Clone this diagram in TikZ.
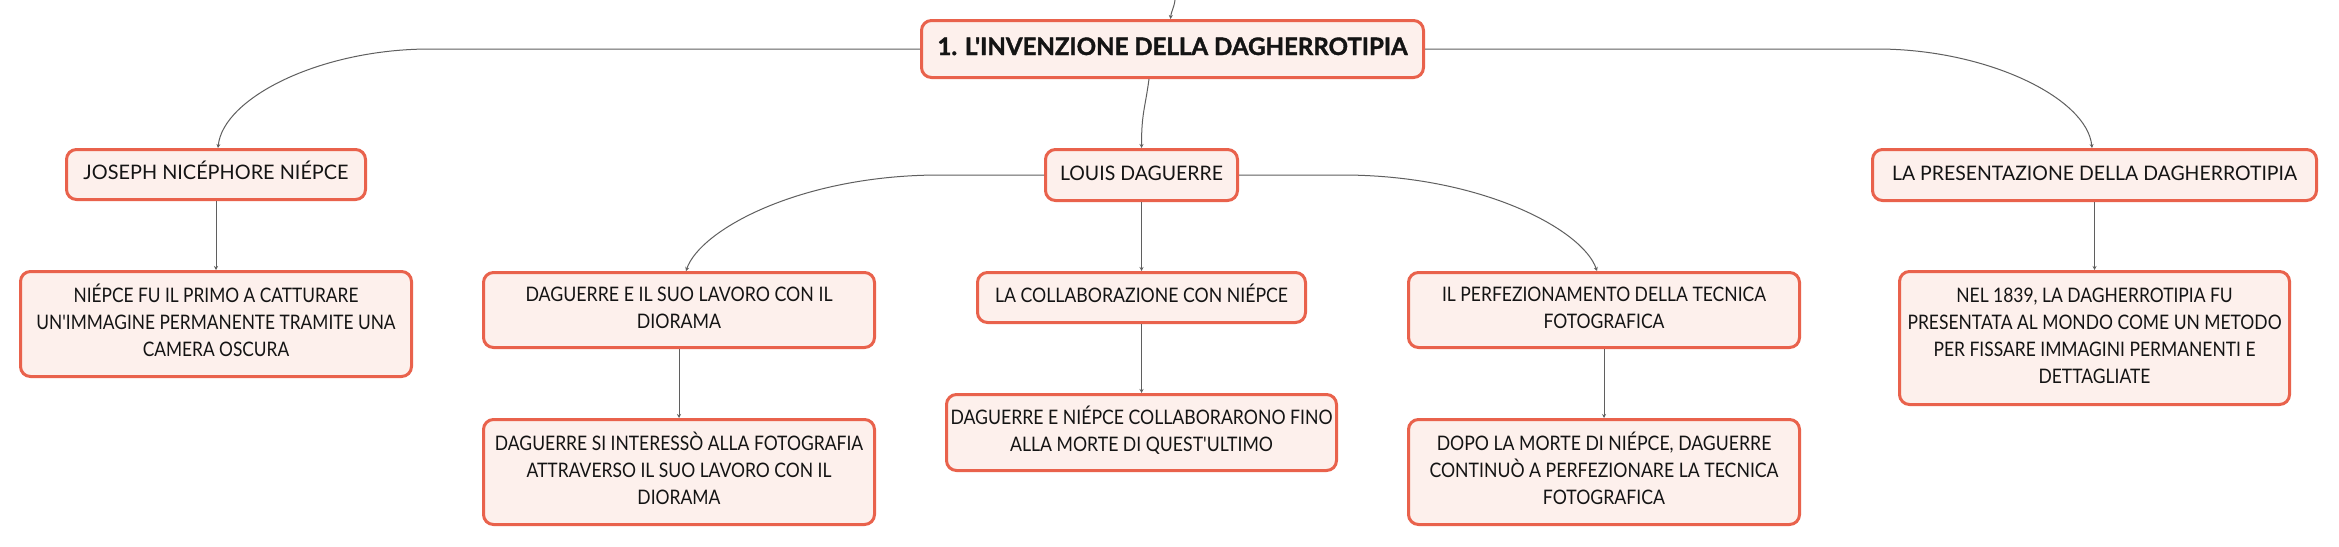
\documentclass[tikz,border=0pt]{standalone}
\usepackage{fontspec}
\usepackage{graphicx}
\setmainfont{Lato}[Ligatures=TeXOff, BoldFeatures={FakeBold=1.5}]
\usetikzlibrary{arrows.meta}
\definecolor{boxred}{RGB}{233,98,76}
\definecolor{boxfill}{RGB}{253,240,236}
\definecolor{linec}{RGB}{95,95,95}
\definecolor{txt}{RGB}{20,20,20}
\newcommand\fitw[2]{\resizebox{#1pt}{\height}{\begin{tabular}{@{}c@{}}#2\end{tabular}}}
\begin{document}
\begin{tikzpicture}[x=1pt,y=-1pt,
  box/.style={draw=boxred, fill=boxfill, line width=3pt, rounded corners=10pt,
    align=center, text=txt, inner sep=0pt, font=\fontsize{20}{27}\selectfont},
  link/.style={draw=linec, line width=1pt, -{Stealth[length=4pt,width=4pt]}}]
\useasboundingbox[fill=white] (0,0) rectangle (2339,546);

\node[box, minimum width=502, minimum height=57, font=\fontsize{24}{30}\selectfont\bfseries] (title) at (1172.5,49) {\fitw{470}{1. L'INVENZIONE DELLA DAGHERROTIPIA}};

\node[box, minimum width=299, minimum height=50] (joseph) at (216,174.5) {\fitw{265}{JOSEPH NICÉPHORE NIÉPCE}};
\node[box, minimum width=192, minimum height=51] (louis) at (1141.5,175) {\fitw{163}{LOUIS DAGUERRE}};
\node[box, minimum width=444, minimum height=51] (pres) at (2094.5,175) {\fitw{405}{LA PRESENTAZIONE DELLA DAGHERROTIPIA}};

\node[box, minimum width=391, minimum height=105] (n1) at (216,324) {\fitw{359}{NIÉPCE FU IL PRIMO A CATTURARE\\UN'IMMAGINE PERMANENTE TRAMITE UNA\\CAMERA OSCURA}};
\node[box, minimum width=391, minimum height=75] (d1) at (679,310) {\fitw{307}{DAGUERRE E IL SUO LAVORO CON IL\\DIORAMA}};
\node[box, minimum width=328, minimum height=50] (d2) at (1141.5,297.5) {\fitw{293}{LA COLLABORAZIONE CON NIÉPCE}};
\node[box, minimum width=391, minimum height=75] (d3) at (1604,310) {\fitw{324}{IL PERFEZIONAMENTO DELLA TECNICA\\FOTOGRAFICA}};
\node[box, minimum width=390, minimum height=133] (p1) at (2094.5,338) {\fitw{374}{NEL 1839, LA DAGHERROTIPIA FU\\PRESENTATA AL MONDO COME UN METODO\\PER FISSARE IMMAGINI PERMANENTI E\\DETTAGLIATE}};

\node[box, minimum width=391, minimum height=105] (d1a) at (679,472) {\fitw{368}{DAGUERRE SI INTERESSÒ ALLA FOTOGRAFIA\\ATTRAVERSO IL SUO LAVORO CON IL\\DIORAMA}};
\node[box, minimum width=390, minimum height=76] (d2a) at (1141.5,432.5) {\fitw{382}{DAGUERRE E NIÉPCE COLLABORARONO FINO\\ALLA MORTE DI QUEST'ULTIMO}};
\node[box, minimum width=391, minimum height=105] (d3a) at (1604,472) {\fitw{349}{DOPO LA MORTE DI NIÉPCE, DAGUERRE\\CONTINUÒ A PERFEZIONARE LA TECNICA\\FOTOGRAFICA}};

% incoming connector from the parent above the picture
\coordinate (topin) at (1175,0);
\draw[link] (topin) .. controls (1174,8) and (1171,12) .. ([xshift=-2]title.north);

% title to its children
\draw[link] ([xshift=-23.5]title.south) .. controls +(-4,30) and +(0,-35) .. (louis.north);
\draw[link] (title.west) -- (430,49) .. controls (320,49) and (223,98) .. ([xshift=2]joseph.north);
\draw[link] (title.east) -- (1877,49) .. controls (1987,49) and (2087,98) .. ([xshift=-2.5]pres.north);

% louis to its children
\draw[link] (louis.west) -- (940,175) .. controls (800,175) and (700,230) .. ([xshift=7]d1.north);
\draw[link] (louis.south) -- (d2.north);
\draw[link] (louis.east) -- (1342,175) .. controls (1482,175) and (1583,230) .. ([xshift=-7]d3.north);

% leaves
\draw[link] (joseph.south) -- (n1.north);
\draw[link] (d1.south) -- (d1a.north);
\draw[link] (d2.south) -- (d2a.north);
\draw[link] (d3.south) -- (d3a.north);
\draw[link] (pres.south) -- (p1.north);
\end{tikzpicture}
\end{document}
